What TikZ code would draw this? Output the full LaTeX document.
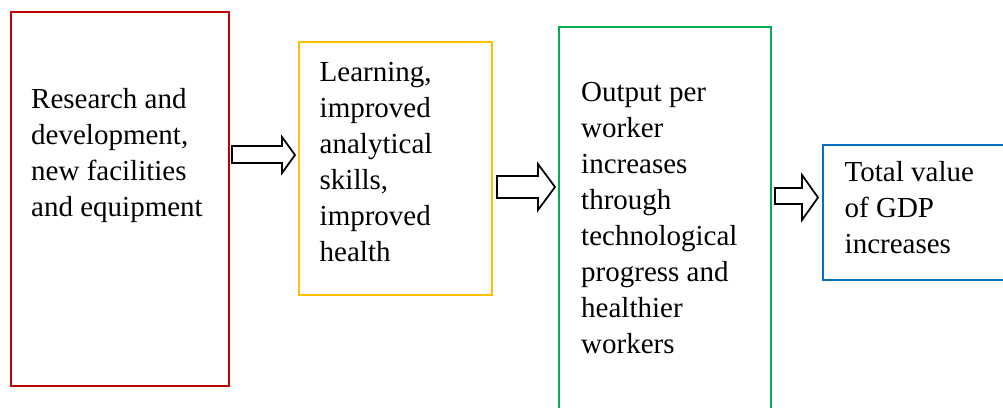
\documentclass[tikz,border=0pt]{standalone}
\usepackage{fontspec}
\setmainfont{Liberation Serif}
\usetikzlibrary{positioning}

\definecolor{boxred}{HTML}{C00000}
\definecolor{boxyellow}{HTML}{FFC000}
\definecolor{boxgreen}{HTML}{00B050}
\definecolor{boxblue}{HTML}{0070C0}

\tikzset{
    Box/.style = {rectangle, line width=2bp, inner sep=0pt, outer sep=0pt, anchor=north west}
}
\tikzset{
    Label/.style = {align=left, inner sep=0pt, anchor=base west}
}
\tikzset{
    BlockArrow/.style = {draw=black, line width=1.75bp, fill=white}
}

\begin{document}
\begin{tikzpicture}[
    x=1bp, y=-1bp,
    font=\fontsize{29bp}{36bp}\selectfont
]
\useasboundingbox (0,0) rectangle (1003,407);

% the four stages
\node[Box, draw=boxred, minimum width=218.5bp, minimum height=374bp] at (10.5,12) (rd) {};
\node[Box, draw=boxyellow, minimum width=193.3bp, minimum height=253.3bp] at (299,42) (learn) {};
\node[Box, draw=boxgreen, minimum width=212bp, minimum height=400bp] at (559,27) (output) {};
\node[Box, draw=boxblue, minimum width=200bp, minimum height=134.5bp] at (823,145) (gdp) {};

% base is the last line of each label
\node[Label] at (31,216.3) (rdtext) {Research and\\development,\\new facilities\\and equipment};
\node[Label] at (319.5,261) (learntext) {Learning,\\improved\\analytical\\skills,\\improved\\health};
\node[Label] at (581,353.5) (outputtext) {Output per\\worker\\increases\\through\\technological\\progress and\\healthier\\workers};
\node[Label] at (844.5,253) (gdptext) {Total value\\of GDP\\increases};

% hollow arrows between the stages
\draw[BlockArrow] (232,146) -- (282,146) -- (282,137) -- (295,155) -- (282,173) -- (282,163) -- (232,163) -- cycle;
\draw[BlockArrow] (497,176) -- (538,176) -- (538,164) -- (555,187) -- (538,210) -- (538,198) -- (497,198) -- cycle;
\draw[BlockArrow] (775,188) -- (802,188) -- (802,175) -- (818,197.5) -- (802,220) -- (802,204) -- (775,204) -- cycle;
\end{tikzpicture}
\end{document}
